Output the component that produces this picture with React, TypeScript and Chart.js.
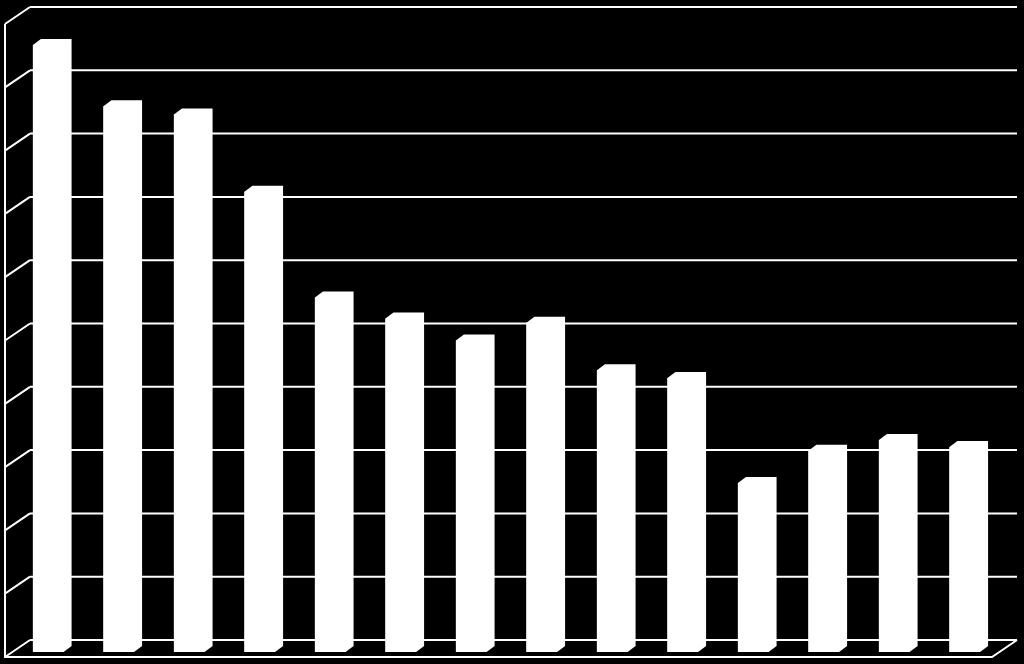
import React, { useEffect, useRef } from 'react';
import { Chart, registerables, Plugin } from 'chart.js';

Chart.register(...registerables);

const categories = ['1', '2', '3', '4', '5', '6', '7', '8', '9', '10', '11', '12', '13', '14'];
const values = [95.9, 86.2, 84.9, 72.7, 56.0, 52.7, 49.2, 52.0, 44.5, 43.3, 26.7, 31.8, 33.5, 32.4];
const tickValues = [0, 10, 20, 30, 40, 50, 60, 70, 80, 90, 100];

// perspective offsets relative to the plane the bar fronts sit in
const FRONT = { dx: -8, dy: 5 };
const BACK = { dx: 17, dy: -12 };
const BAR_DEPTH = { dx: 8, dy: -6 };
const LINE = '#ffffff';

const frame3d: Plugin<'bar'> = {
  id: 'frame3d',
  beforeDatasetsDraw(chart) {
    const { ctx, chartArea, scales } = chart;
    const y = scales.y;
    const left = chartArea.left;
    const right = chartArea.right;
    ctx.save();
    ctx.strokeStyle = LINE;
    ctx.lineWidth = 2;
    ctx.beginPath();
    tickValues.forEach((v) => {
      const py = y.getPixelForValue(v);
      // back wall gridline
      ctx.moveTo(left + BACK.dx, py + BACK.dy);
      ctx.lineTo(right + BACK.dx, py + BACK.dy);
      // left wall diagonal
      ctx.moveTo(left + FRONT.dx, py + FRONT.dy);
      ctx.lineTo(left + BACK.dx, py + BACK.dy);
    });
    const top = y.getPixelForValue(tickValues[tickValues.length - 1]);
    const base = y.getPixelForValue(0);
    // left wall front edge
    ctx.moveTo(left + FRONT.dx, top + FRONT.dy);
    ctx.lineTo(left + FRONT.dx, base + FRONT.dy);
    // floor front edge and right side
    ctx.lineTo(right + FRONT.dx, base + FRONT.dy);
    ctx.lineTo(right + BACK.dx, base + BACK.dy);
    ctx.stroke();
    ctx.restore();
  },
  afterDatasetsDraw(chart) {
    const { ctx } = chart;
    const meta = chart.getDatasetMeta(0);
    ctx.save();
    ctx.fillStyle = '#ffffff';
    meta.data.forEach((el: any) => {
      const { x, y, base, width } = el.getProps(['x', 'y', 'base', 'width'], true);
      const l = x - width / 2;
      const r = x + width / 2;
      ctx.beginPath();
      ctx.moveTo(l, y);
      ctx.lineTo(l + BAR_DEPTH.dx, y + BAR_DEPTH.dy);
      ctx.lineTo(r + BAR_DEPTH.dx, y + BAR_DEPTH.dy);
      ctx.lineTo(r + BAR_DEPTH.dx, base + BAR_DEPTH.dy);
      ctx.lineTo(r, base);
      ctx.lineTo(l, base);
      ctx.closePath();
      ctx.fill();
    });
    ctx.restore();
  },
};

const App: React.FC = () => {
  const canvasRef = useRef<HTMLCanvasElement>(null);

  useEffect(() => {
    document.body.style.margin = '0';
    if (!canvasRef.current) return;
    const chart = new Chart(canvasRef.current, {
      type: 'bar',
      data: {
        labels: categories,
        datasets: [{
          data: values,
          backgroundColor: '#ffffff',
          borderWidth: 0,
          categoryPercentage: 1,
          barPercentage: 0.435,
        }],
      },
      options: {
        responsive: true,
        maintainAspectRatio: false,
        animation: false,
        layout: { padding: { left: 13, right: 24, top: 19, bottom: 12 } },
        plugins: { legend: { display: false }, tooltip: { enabled: false } },
        scales: {
          x: { display: false, offset: true },
          y: { display: false, min: 0, max: 100 },
        },
      },
      plugins: [frame3d],
    });
    return () => chart.destroy();
  }, []);

  return (
    <div style={{ width: 1024, height: 664, background: '#000', position: 'relative' }}>
      <canvas ref={canvasRef} />
    </div>
  );
};

export default App;
